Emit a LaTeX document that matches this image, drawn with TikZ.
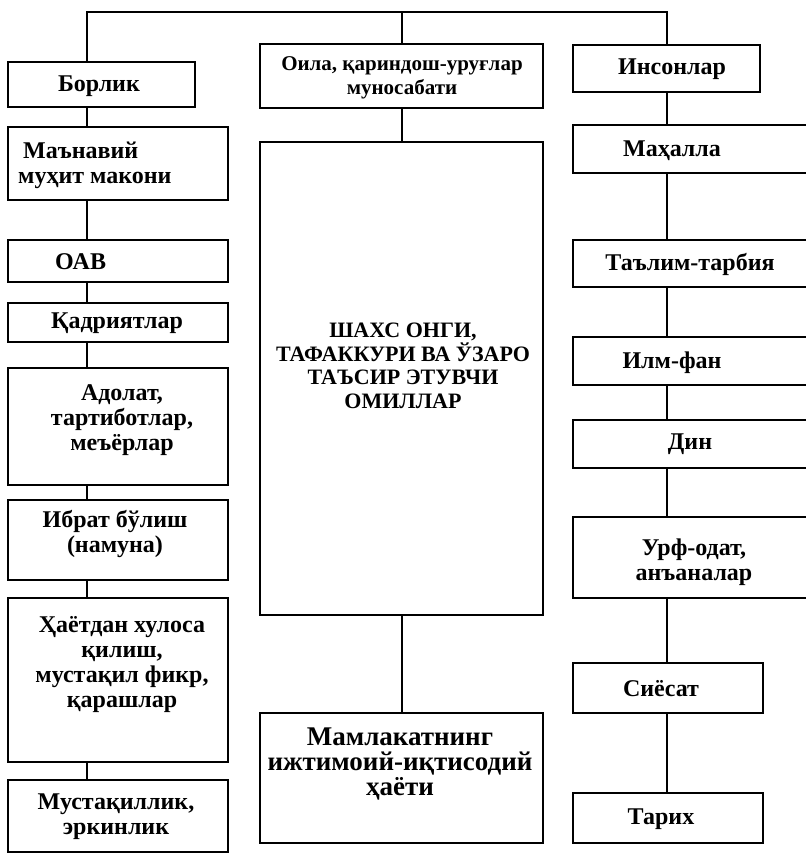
\documentclass[tikz,border=0pt]{standalone}
\usepackage{fontspec}
\setmainfont{Liberation Serif}
\begin{document}
\begin{tikzpicture}[x=1pt,y=-1pt,
  box/.style={draw=black, line width=1.7pt, inner sep=0pt, outer sep=0pt},
  lbl/.style={font=\bfseries\fontsize{24}{25}\selectfont, inner sep=0pt, align=center, text=black},
  lblsm/.style={lbl, font=\bfseries\fontsize{21}{24.5}\selectfont},
  lblcap/.style={lbl, font=\bfseries\fontsize{22}{23.5}\selectfont},
  lblbig/.style={lbl, font=\bfseries\fontsize{27}{25}\selectfont},
  wire/.style={draw=black, line width=1.7pt}]
\useasboundingbox (0,0) rectangle (806,855);
\fill[white] (0,0) rectangle (806,855);
\clip (0,0) rectangle (806,855);

% left column
\node[box, minimum width=187pt, minimum height=45pt] (borlik) at (101.5,84.5) {};
\node[box, minimum width=220pt, minimum height=73pt] (manaviy) at (118,163.5) {};
\node[box, minimum width=220pt, minimum height=42pt] (oav) at (118,261) {};
\node[box, minimum width=220pt, minimum height=39pt] (qadr) at (118,322.5) {};
\node[box, minimum width=220pt, minimum height=117pt] (adolat) at (118,426.5) {};
\node[box, minimum width=220pt, minimum height=80pt] (ibrat) at (118,540) {};
\node[box, minimum width=220pt, minimum height=164pt] (hayot) at (118,680) {};
\node[box, minimum width=220pt, minimum height=72pt] (must) at (118,816) {};

% middle column
\node[box, minimum width=283pt, minimum height=64pt] (oila) at (401.5,76) {};
\node[box, minimum width=283pt, minimum height=473pt] (big) at (401.5,378.5) {};
\node[box, minimum width=283pt, minimum height=130pt] (mam) at (401.5,778) {};

% right column
\node[box, minimum width=187pt, minimum height=47pt] (insonlar) at (666.5,68.5) {};
\node[box, minimum width=257pt, minimum height=48pt] (mahalla) at (701.5,149) {};
\node[box, minimum width=257pt, minimum height=47pt] (talim) at (701.5,263.5) {};
\node[box, minimum width=257pt, minimum height=48pt] (ilm) at (701.5,361) {};
\node[box, minimum width=257pt, minimum height=48pt] (din) at (701.5,444) {};
\node[box, minimum width=257pt, minimum height=81pt] (urf) at (701.5,557.5) {};
\node[box, minimum width=190pt, minimum height=50pt] (siyosat) at (668,688) {};
\node[box, minimum width=190pt, minimum height=50pt] (tarix) at (668,818) {};

% labels
\node[lbl] (borlik-t) at (99,86) {Борлик};
\node[lbl, anchor=west, align=left] (manaviy-t) at (18,165) {\hspace{5pt}Маънавий\\муҳит макони};
\node[lbl, anchor=west] (oav-t) at (55,262) {ОАВ};
\node[lbl] (qadr-t) at (117,323) {Қадриятлар};
\node[lbl] (adolat-t) at (122,420) {Адолат,\\тартиботлар,\\меъёрлар};
\node[lbl] (ibrat-t) at (115,534) {Ибрат бўлиш\\(намуна)};
\node[lbl] (hayot-t) at (122,665) {Ҳаётдан хулоса\\қилиш,\\мустақил фикр,\\қарашлар};
\node[lbl] (must-t) at (116,817) {Мустақиллик,\\эркинлик};

\node[lblsm] (oila-t) at (402,78) {Оила, қариндош-уруғлар\\муносабати};
\node[lblcap] (big-t) at (403,366) {ШАХС ОНГИ,\\ТАФАККУРИ ВА ЎЗАРО\\ТАЪСИР ЭТУВЧИ\\ОМИЛЛАР};
\node[lblbig] (mam-t) at (400,764) {Мамлакатнинг\\ижтимоий-иқтисодий\\ҳаёти};

\node[lbl] (insonlar-t) at (672,69) {Инсонлар};
\node[lbl] (mahalla-t) at (672,151) {Маҳалла};
\node[lbl] (talim-t) at (690,264) {Таълим-тарбия};
\node[lbl] (ilm-t) at (672,363) {Илм-фан};
\node[lbl] (din-t) at (690,444) {Дин};
\node[lbl] (urf-t) at (694,562) {Урф-одат,\\анъаналар};
\node[lbl] (siyosat-t) at (661,689) {Сиёсат};
\node[lbl] (tarix-t) at (661,819) {Тарих};

% connectors
\coordinate (xL) at (87,0);
\coordinate (xM) at (402,0);
\coordinate (xR) at (667,0);
\coordinate (topL) at (87,12);
\coordinate (topR) at (667,12);
\draw[wire] (borlik.north -| xL) -- (topL) -- (topR) -- (insonlar.north -| xR);
\draw[wire] (oila.north -| xM) -- (topL -| xM);
\foreach \a/\b in {borlik/manaviy, manaviy/oav, oav/qadr, qadr/adolat, adolat/ibrat, ibrat/hayot, hayot/must}
  \draw[wire] (\a.south -| xL) -- (\b.north -| xL);
\foreach \a/\b in {oila/big, big/mam}
  \draw[wire] (\a.south -| xM) -- (\b.north -| xM);
\foreach \a/\b in {insonlar/mahalla, mahalla/talim, talim/ilm, ilm/din, din/urf, urf/siyosat, siyosat/tarix}
  \draw[wire] (\a.south -| xR) -- (\b.north -| xR);
\end{tikzpicture}
\end{document}
